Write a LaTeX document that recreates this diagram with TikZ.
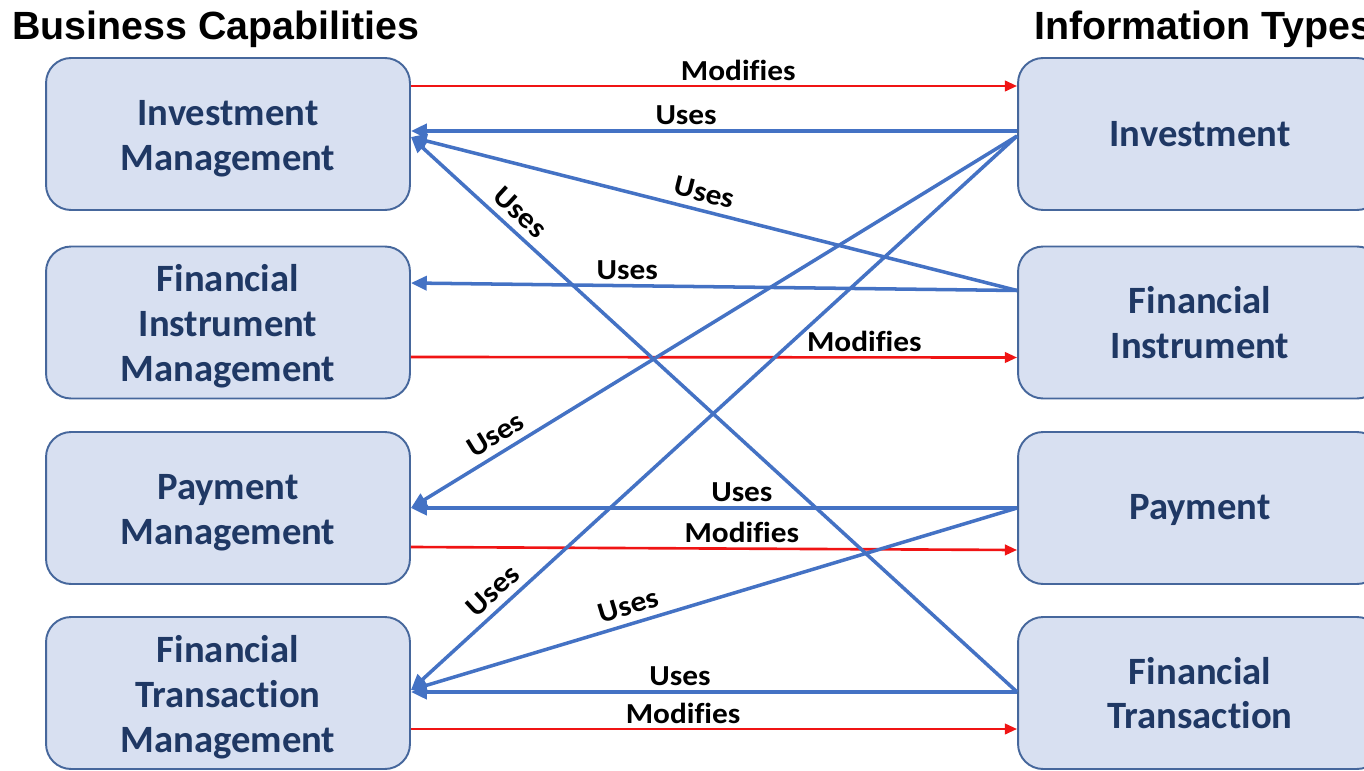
\documentclass[tikz,border=0pt]{standalone}
\usepackage{fontspec}
\usetikzlibrary{arrows.meta,calc}
\newfontfamily\boxfont{Carlito}[Ligatures=NoCommon]
\newfontfamily\labelfont{Carlito}[Ligatures=NoCommon, FakeStretch=1.08]
\newfontfamily\headfont{Liberation Sans}
\newcommand\boxstrut{\rule{0pt}{20pt}}
\definecolor{boxfill}{HTML}{D8E0F1}
\definecolor{boxline}{HTML}{46679C}
\definecolor{boxtext}{HTML}{1F3864}
\definecolor{useblue}{HTML}{4472C4}
\definecolor{modred}{HTML}{F01414}
\tikzset{
  capbox/.style={draw=boxline, line width=1.1pt, fill=boxfill, rounded corners=0.5cm,
    minimum width=7.28cm, minimum height=3.04cm, align=center, text=boxtext,
    font=\boxfont\bfseries\fontsize{22}{25.5}\selectfont},
  heading/.style={anchor=base west, inner sep=0pt, font=\headfont\bfseries\fontsize{22.4}{24}\selectfont},
  uses/.style={draw=useblue, line width=2pt, -{Triangle[length=9pt,width=8pt]}},
  modifies/.style={draw=modred, line width=1.5pt, -{Triangle[length=7pt,width=6pt]}},
  lab/.style={font=\labelfont\bfseries\fontsize{16.5}{18}\selectfont, text=black, inner sep=2.5pt, above},
  slab/.style={lab, sloped, inner sep=4pt}
}
\begin{document}
\begin{tikzpicture}[x=0.02cm, y=-0.02cm]
\useasboundingbox (0,0) rectangle (1364,770);

% column headings
\node[heading] (hcap) at (12,40) {Business Capabilities};
\node[heading] (hinf) at (1034,40) {Information Types};

% business capabilities
\node[capbox] (im)  at (228,134)   {\boxstrut Investment\\Management};
\node[capbox] (fim) at (228,322.5) {\boxstrut Financial\\Instrument\\Management};
\node[capbox] (pm)  at (228,508)   {\boxstrut Payment\\Management};
\node[capbox] (ftm) at (228,693)   {\boxstrut Financial\\Transaction\\Management};

% information types
\node[capbox] (inv) at (1200,134)   {Investment};
\node[capbox] (fi)  at (1200,322.5) {Financial\\Instrument};
\node[capbox] (pay) at (1200,508)   {\rule{0pt}{17pt}Payment};
\node[capbox] (ft)  at (1200,693)   {Financial\\Transaction};

% modifies relations
\draw[modifies] ($(im.east)+(0,-48)$) -- node[lab, pos=0.54] {Modifies} ($(inv.west)+(0,-48)$);
\draw[modifies] ($(fim.east)+(0,34.5)$) -- node[lab, pos=0.748] {Modifies} ($(fi.west)+(0,35)$);
\draw[modifies] ($(pm.east)+(0,39)$) -- node[lab, pos=0.546] {Modifies} ($(pay.west)+(0,42)$);
\draw[modifies] ($(ftm.east)+(0,36)$) -- node[lab, pos=0.449] {Modifies} ($(ft.west)+(0,36)$);

% uses relations
\draw[uses] ($(inv.west)+(0,-3)$) -- node[lab, pos=0.546] {Uses} ($(im.east)+(0,-3)$);
\draw[uses] ($(fi.west)+(0,-32)$) -- node[slab, pos=0.523] {Uses} ($(im.east)+(0,3)$);
\draw[uses] ($(fi.west)+(0,-32)$) -- node[lab, pos=0.643] {Uses} ($(fim.east)+(0,-39.5)$);
\draw[uses] ($(inv.west)+(0,2)$) -- node[slab, pos=0.845] {Uses} (pm.east);
\draw[uses] (pay.west) -- node[lab, pos=0.454] {Uses} (pm.east);
\draw[uses] ($(inv.west)+(0,2)$) -- node[slab, pos=0.845] {Uses} ($(ftm.east)+(0,-3)$);
\draw[uses] (pay.west) -- node[slab, pos=0.633] {Uses} ($(ftm.east)+(0,-3)$);
\draw[uses] ($(ft.west)+(0,-1)$) -- node[slab, pos=0.84] {Uses} ($(im.east)+(0,3)$);
\draw[uses] ($(ft.west)+(0,-1)$) -- node[lab, pos=0.556] {Uses} ($(ftm.east)+(0,-1)$);
\end{tikzpicture}
\end{document}
